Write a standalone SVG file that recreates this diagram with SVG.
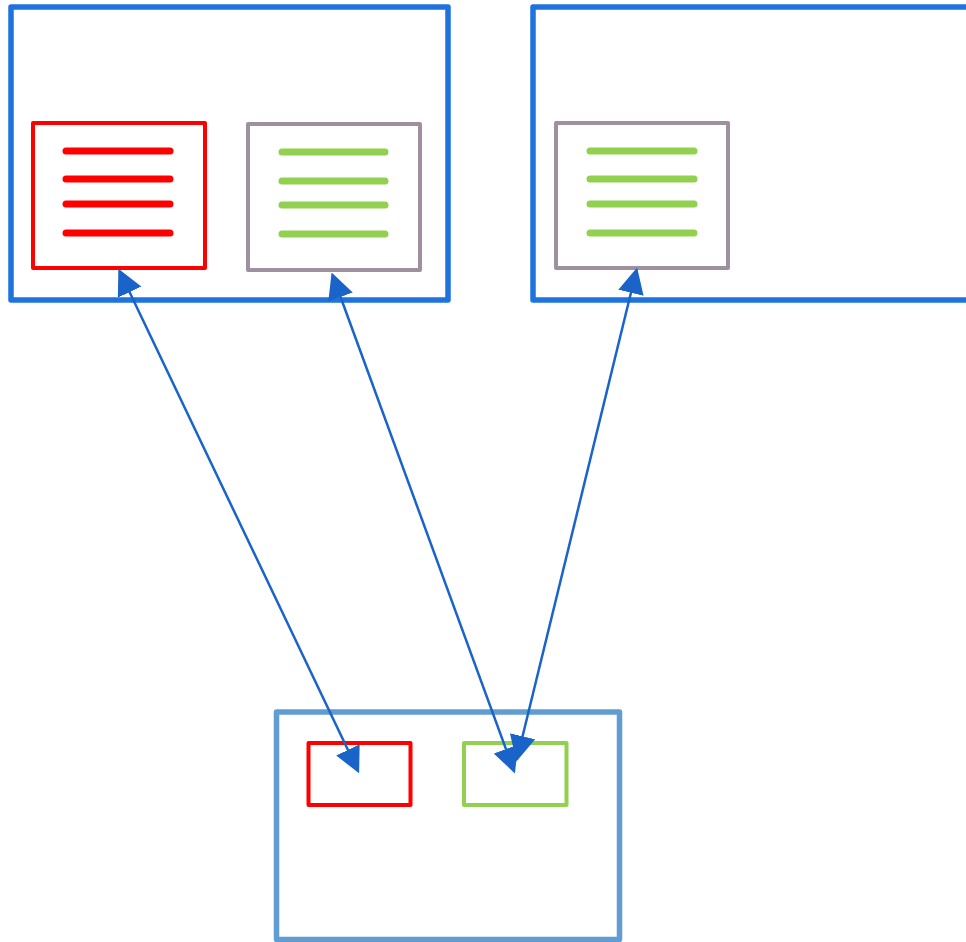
<svg xmlns="http://www.w3.org/2000/svg" width="966" height="942" viewBox="0 0 966 942">
  <style>
    .outer { fill: none; stroke: #1e73de; stroke-width: 5.5; stroke-linejoin: round; }
    .bottom { fill: none; stroke: #619dd2; stroke-width: 5.5; stroke-linejoin: round; }
    .red { fill: none; stroke: #ff0000; stroke-width: 4; stroke-linejoin: round; }
    .grey { fill: none; stroke: #9e909e; stroke-width: 4; stroke-linejoin: round; }
    .greenbox { fill: none; stroke: #92d050; stroke-width: 4; stroke-linejoin: round; }
    .rl { stroke: #ff0000; stroke-width: 7; stroke-linecap: round; }
    .gl { stroke: #92d050; stroke-width: 7; stroke-linecap: round; }
    .conn { stroke: #1a64c9; stroke-width: 2.5; fill: none; marker-start: url(#arr); marker-end: url(#arr); }
  </style>
  <defs>
    <marker id="arr" viewBox="0 0 20 20" refX="18" refY="10" markerWidth="26" markerHeight="26" markerUnits="userSpaceOnUse" orient="auto-start-reverse">
      <path d="M0,0 L20,10 L0,20 z" fill="#1a64c9"/>
    </marker>
  </defs>
  <g id="container-left">
    <rect class="outer" x="11" y="7" width="437" height="293"/>
  </g>
  <g id="container-right">
    <rect class="outer" x="533" y="7" width="440" height="293"/>
  </g>
  <g id="doc-red">
    <rect class="red" x="33" y="123" width="172" height="145"/>
    <line class="rl" x1="66" y1="151" x2="170" y2="151"/>
    <line class="rl" x1="66" y1="179" x2="170" y2="179"/>
    <line class="rl" x1="66" y1="204" x2="170" y2="204"/>
    <line class="rl" x1="66" y1="233" x2="170" y2="233"/>
  </g>
  <g id="doc-grey-left">
    <rect class="grey" x="248" y="124" width="172" height="146"/>
    <line class="gl" x1="282" y1="152" x2="385" y2="152"/>
    <line class="gl" x1="282" y1="181" x2="385" y2="181"/>
    <line class="gl" x1="282" y1="205" x2="385" y2="205"/>
    <line class="gl" x1="282" y1="234" x2="385" y2="234"/>
  </g>
  <g id="doc-grey-right">
    <rect class="grey" x="556" y="123" width="172" height="145"/>
    <line class="gl" x1="590" y1="151" x2="694" y2="151"/>
    <line class="gl" x1="590" y1="179" x2="694" y2="179"/>
    <line class="gl" x1="590" y1="204" x2="694" y2="204"/>
    <line class="gl" x1="590" y1="233" x2="694" y2="233"/>
  </g>
  <g id="container-bottom">
    <rect class="bottom" x="276.5" y="712" width="343" height="227.5"/>
  </g>
  <g id="slot-red">
    <rect class="red" x="308.5" y="743" width="102" height="62"/>
  </g>
  <g id="slot-green">
    <rect class="greenbox" x="464" y="743" width="102.5" height="62"/>
  </g>
  <g id="connectors">
    <line class="conn" x1="119.5" y1="271" x2="358" y2="771"/>
    <line class="conn" x1="332.5" y1="275" x2="514" y2="771"/>
    <line class="conn" x1="636.5" y1="270" x2="517" y2="759"/>
  </g>
</svg>
